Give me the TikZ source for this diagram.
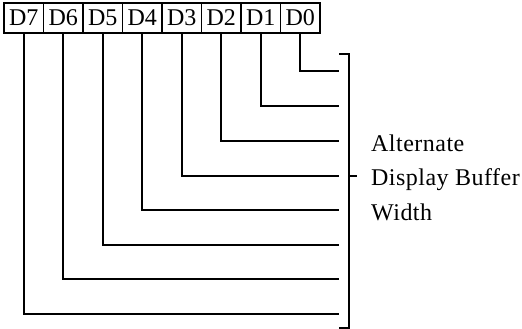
\documentclass[tikz,border=0pt]{standalone}
\usepackage{fontspec}
\setmainfont{Liberation Serif}
\newfontfamily\lblfont[LetterSpace=2]{Liberation Serif}
\usetikzlibrary{positioning}
\tikzset{
  bitbox/.style ={rectangle, draw=black, line width=1.3pt, fill=white,
                  minimum width=39.5pt, minimum height=30pt,
                  inner sep=0pt, outer sep=0pt, font=\fontsize{24}{28}\selectfont},
  bitln/.style  ={line width=1.6pt, draw=black},
  brkt/.style   ={line width=1.6pt, draw=black},
  lbl/.style    ={font=\lblfont\fontsize{24}{28}\selectfont, anchor=base west, inner sep=0pt}
}

\begin{document}
\begin{tikzpicture}[x=1pt,y=-1pt]
  \useasboundingbox (0,0) rectangle (522,329);
  % register bits
  \node[bitbox] (d7) at (23.75,18) {D7};
  \node[bitbox,right=0pt of d7] (d6) {D6};
  \node[bitbox,right=0pt of d6] (d5) {D5};
  \node[bitbox,right=0pt of d5] (d4) {D4};
  \node[bitbox,right=0pt of d4] (d3) {D3};
  \node[bitbox,right=0pt of d3] (d2) {D2};
  \node[bitbox,right=0pt of d2] (d1) {D1};
  \node[bitbox,right=0pt of d1] (d0) {D0};
  % line ends at the bracket
  \coordinate (e0) at (339,71);
  \coordinate (e1) at (339,106);
  \coordinate (e2) at (339,141);
  \coordinate (e3) at (339,176);
  \coordinate (e4) at (339,210);
  \coordinate (e5) at (339,245);
  \coordinate (e6) at (339,279);
  \coordinate (e7) at (339,314);
  \draw[bitln] (d0.south) |- (e0); \draw[bitln] (d1.south) |- (e1);
  \draw[bitln] (d2.south) |- (e2); \draw[bitln] (d3.south) |- (e3);
  \draw[bitln] (d4.south) |- (e4); \draw[bitln] (d5.south) |- (e5);
  \draw[bitln] (d6.south) |- (e6); \draw[bitln] (d7.south) |- (e7);
  % bracket
  \coordinate (bt) at (339,54);
  \coordinate (bb) at (339,328);
  \coordinate (bm) at (349,176);
  \draw[brkt] (bt) -- ++(10,0) -- ++(0,274) -- (bb);
  \draw[brkt] (bm) -- ++(8,0);
  \node[lbl] (alt) at (371,151.5) {Alternate};
  \node[lbl] (buf) at (371,185.5) {Display Buffer};
  \node[lbl] (wid) at (371,220) {Width};
\end{tikzpicture}
\end{document}
